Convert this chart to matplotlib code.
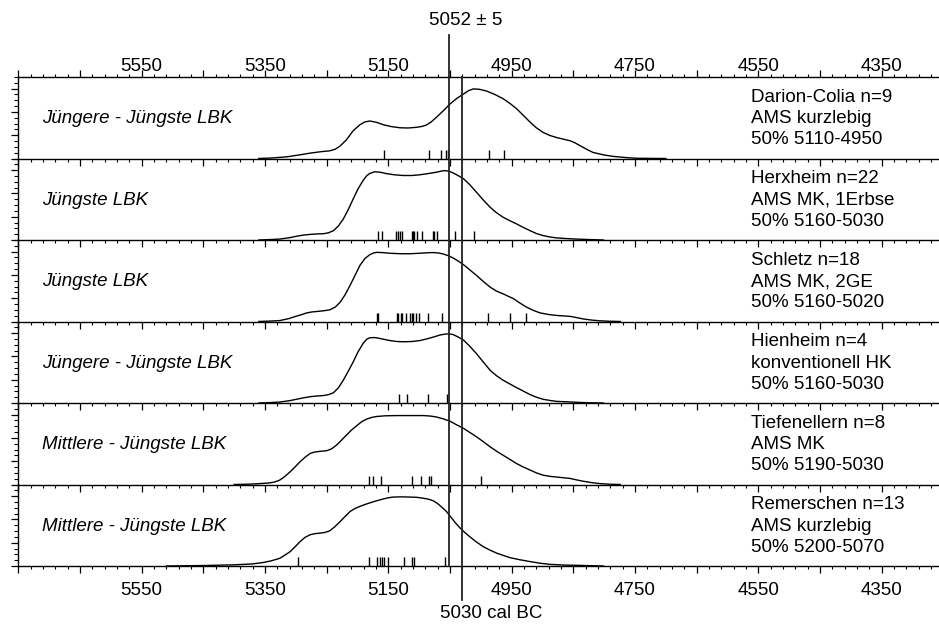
import matplotlib
matplotlib.use("Agg")
import matplotlib.pyplot as plt
from matplotlib.ticker import MultipleLocator, FuncFormatter
from matplotlib.transforms import blended_transform_factory

plt.rcParams['font.family'] = ['Liberation Sans', 'DejaVu Sans']

# ---- Summenkurven (cal BC) und Einzeldaten je Fundstelle ----
years_darion = [5360, 5340, 5315, 5295, 5277, 5260, 5245, 5236, 5228, 5218, 5207, 5196, 5188,
                5180, 5170, 5158, 5145, 5131, 5118, 5104, 5095, 5088, 5080, 5072, 5060, 5050,
                5039, 5028, 5020, 5012, 5002, 4991, 4978, 4964, 4953, 4942, 4931, 4920, 4910,
                4899, 4888, 4877, 4866, 4855, 4847, 4839, 4828, 4818, 4800, 4785, 4765, 4747,
                4700]
dens_darion = [0.0, 0.02, 0.07, 0.15, 0.23, 0.29, 0.33, 0.40, 0.54, 0.80, 1.19, 1.45, 1.57,
               1.61, 1.56, 1.45, 1.37, 1.32, 1.31, 1.34, 1.38, 1.44, 1.58, 1.77, 2.07, 2.34,
               2.58, 2.77, 2.91, 2.99, 2.97, 2.90, 2.76, 2.57, 2.37, 2.14, 1.85, 1.56, 1.32,
               1.12, 0.99, 0.90, 0.83, 0.76, 0.67, 0.55, 0.39, 0.26, 0.15, 0.09, 0.04, 0.01,
               0.0]
dates_darion = [5157, 5084, 5064, 5057, 5054, 4987, 4963]

years_herx = [5360, 5340, 5326, 5310, 5299, 5288, 5277, 5266, 5255, 5247, 5239, 5231, 5223,
              5215, 5207, 5199, 5191, 5185, 5180, 5172, 5163, 5153, 5140, 5126, 5112, 5099,
              5086, 5072, 5064, 5058, 5051, 5045, 5037, 5028, 5018, 5007, 4996, 4985, 4975,
              4964, 4953, 4942, 4931, 4920, 4910, 4899, 4888, 4877, 4860, 4845, 4825, 4801]
dens_herx = [0.0, 0.02, 0.04, 0.10, 0.16, 0.21, 0.24, 0.26, 0.27, 0.31, 0.40, 0.60, 0.90,
             1.30, 1.76, 2.20, 2.55, 2.76, 2.86, 2.93, 2.91, 2.85, 2.80, 2.77, 2.77, 2.80,
             2.85, 2.91, 2.96, 2.98, 2.95, 2.88, 2.77, 2.63, 2.38, 2.05, 1.72, 1.41, 1.18,
             0.98, 0.83, 0.69, 0.54, 0.40, 0.28, 0.19, 0.13, 0.09, 0.06, 0.04, 0.02, 0.0]
dates_herx = [5166, 5161, 5138, 5135, 5131, 5127, 5112, 5110, 5108, 5103, 5095, 5078, 5076,
              5071, 5042, 5011]

years_schletz = [5360, 5340, 5326, 5312, 5299, 5290, 5282, 5274, 5266, 5255, 5245, 5236, 5228,
                 5220, 5212, 5204, 5196, 5188, 5180, 5174, 5169, 5160, 5147, 5130, 5115, 5100,
                 5088, 5077, 5068, 5061, 5053, 5045, 5037, 5028, 5018, 5007, 4996, 4985, 4975,
                 4964, 4956, 4947, 4937, 4926, 4915, 4904, 4890, 4877, 4866, 4855, 4845, 4834,
                 4820, 4807, 4790, 4774]
dens_schletz = [0.0, 0.02, 0.04, 0.12, 0.23, 0.30, 0.37, 0.41, 0.43, 0.46, 0.50, 0.62, 0.83,
                1.15, 1.55, 1.98, 2.41, 2.70, 2.87, 2.94, 2.97, 2.96, 2.93, 2.91, 2.91, 2.93,
                2.95, 2.96, 2.94, 2.90, 2.83, 2.73, 2.60, 2.44, 2.22, 1.98, 1.72, 1.48, 1.31,
                1.19, 1.09, 0.98, 0.80, 0.62, 0.48, 0.37, 0.30, 0.26, 0.24, 0.22, 0.17, 0.11,
                0.06, 0.03, 0.01, 0.0]
dates_schletz = [5169, 5166, 5136, 5134, 5130, 5127, 5121, 5115, 5112, 5110, 5105, 5101, 5085,
                 5063, 4989, 4953, 4926]

years_hien = [5360, 5340, 5326, 5310, 5299, 5288, 5277, 5266, 5255, 5247, 5239, 5231, 5223,
              5215, 5207, 5199, 5191, 5185, 5180, 5174, 5169, 5158, 5147, 5136, 5126, 5112,
              5099, 5088, 5077, 5066, 5058, 5052, 5045, 5037, 5028, 5018, 5007, 4996, 4985,
              4975, 4964, 4953, 4942, 4931, 4920, 4910, 4899, 4888, 4877, 4860, 4845, 4825,
              4801]
dens_hien = [0.0, 0.02, 0.04, 0.10, 0.16, 0.22, 0.27, 0.30, 0.32, 0.36, 0.44, 0.65, 0.98,
             1.36, 1.76, 2.20, 2.55, 2.74, 2.80, 2.81, 2.80, 2.74, 2.68, 2.64, 2.63, 2.64,
             2.68, 2.75, 2.83, 2.92, 2.96, 2.97, 2.94, 2.84, 2.70, 2.44, 2.12, 1.76, 1.41,
             1.18, 0.98, 0.82, 0.66, 0.51, 0.36, 0.25, 0.16, 0.11, 0.07, 0.05, 0.03, 0.01,
             0.0]
dates_hien = [5133, 5120, 5085, 5055]

years_tief = [5400, 5380, 5363, 5342, 5334, 5326, 5318, 5309, 5301, 5293, 5285, 5277, 5270,
              5262, 5250, 5242, 5234, 5226, 5218, 5210, 5201, 5193, 5185, 5177, 5169, 5155,
              5136, 5115, 5093, 5082, 5072, 5061, 5050, 5039, 5028, 5018, 5007, 4996, 4985,
              4975, 4964, 4953, 4942, 4931, 4920, 4910, 4899, 4888, 4877, 4866, 4855, 4845,
              4834, 4820, 4807, 4790, 4774]
dens_tief = [0.0, 0.01, 0.03, 0.07, 0.11, 0.19, 0.34, 0.55, 0.76, 0.98, 1.17, 1.33, 1.39,
             1.42, 1.45, 1.53, 1.69, 1.90, 2.12, 2.33, 2.53, 2.70, 2.81, 2.88, 2.92, 2.95,
             2.96, 2.96, 2.96, 2.94, 2.90, 2.82, 2.72, 2.56, 2.41, 2.24, 2.05, 1.84, 1.62,
             1.44, 1.26, 1.08, 0.90, 0.75, 0.62, 0.50, 0.40, 0.35, 0.32, 0.29, 0.26, 0.20,
             0.14, 0.08, 0.04, 0.01, 0.0]
dates_tief = [5181, 5175, 5162, 5112, 5097, 5084, 5080, 4999]

years_remer = [5510, 5450, 5400, 5370, 5353, 5340, 5326, 5318, 5309, 5301, 5293, 5285, 5277,
               5269, 5261, 5253, 5245, 5237, 5228, 5220, 5212, 5204, 5196, 5188, 5180, 5169,
               5158, 5150, 5142, 5128, 5115, 5104, 5093, 5085, 5077, 5070, 5063, 5056, 5050,
               5042, 5034, 5026, 5018, 5007, 4996, 4985, 4974, 4963, 4953, 4937, 4920, 4904,
               4888, 4865, 4845, 4801]
dens_remer = [0.0, 0.02, 0.05, 0.09, 0.15, 0.22, 0.33, 0.46, 0.62, 0.83, 1.05, 1.23, 1.34,
              1.39, 1.41, 1.44, 1.51, 1.68, 1.91, 2.13, 2.34, 2.47, 2.56, 2.64, 2.71, 2.80,
              2.88, 2.93, 2.96, 2.97, 2.96, 2.95, 2.91, 2.87, 2.80, 2.68, 2.52, 2.35, 2.15,
              1.88, 1.64, 1.44, 1.26, 1.03, 0.83, 0.68, 0.55, 0.45, 0.36, 0.27, 0.19, 0.12,
              0.07, 0.04, 0.03, 0.0]
dates_remer = [5297, 5182, 5168, 5163, 5160, 5157, 5150, 5124, 5112, 5108, 5058]

phases = ["Jüngere - Jüngste LBK", "Jüngste LBK", "Jüngste LBK",
          "Jüngere - Jüngste LBK", "Mittlere - Jüngste LBK", "Mittlere - Jüngste LBK"]
sites = ["Darion-Colia n=9\nAMS kurzlebig\n50% 5110-4950",
         "Herxheim n=22\nAMS MK, 1Erbse\n50% 5160-5030",
         "Schletz n=18\nAMS MK, 2GE\n50% 5160-5020",
         "Hienheim n=4\nkonventionell HK\n50% 5160-5030",
         "Tiefenellern n=8\nAMS MK\n50% 5190-5030",
         "Remerschen n=13\nAMS kurzlebig\n50% 5200-5070"]

curves = [(years_darion, dens_darion, dates_darion),
          (years_herx, dens_herx, dates_herx),
          (years_schletz, dens_schletz, dates_schletz),
          (years_hien, dens_hien, dates_hien),
          (years_tief, dens_tief, dates_tief),
          (years_remer, dens_remer, dates_remer)]

event_date = 5052
event_lbl = "5052 ± 5"
cut_date = 5030
cut_lbl = "5030 cal BC"

# ---- Layout ----
W, H = 939, 625
fig = plt.figure(figsize=(W / 100, H / 100), dpi=100)
x0, x1 = 18.3, 943.3
top_px, bot_px = 77, 566
ph = (bot_px - top_px) / 6


def year_lbl(v, pos):
    v = int(round(v))
    if 4350 <= v <= 5550 and (5550 - v) % 200 == 0:
        return "%d" % v
    return ""


axes = []
for i, (yrs, dens, dates) in enumerate(curves):
    b = bot_px - (5 - i) * ph
    ax = fig.add_axes([x0 / W, 1 - b / H, (x1 - x0) / W, ph / H])
    ax.plot(yrs, dens, color="black", lw=1.0)
    ax.vlines(dates, 0, 0.37, color="black", lw=1.0)
    ax.set_xlim(5750, 4250)
    ax.set_ylim(0, 3.5)

    for s in ["top", "right"]:
        ax.spines[s].set_visible(False)
    if i == 0:
        ax.spines["top"].set_visible(True)
    for s in ax.spines.values():
        s.set_linewidth(1.0)

    # Hauptstriche bei ...50, Nebenstriche alle 20 Jahre
    ax.xaxis.set_major_locator(MultipleLocator(100, offset=50))
    ax.xaxis.set_minor_locator(MultipleLocator(20, offset=10))
    ax.xaxis.set_major_formatter(FuncFormatter(year_lbl))
    ax.yaxis.set_major_locator(MultipleLocator(1))
    ax.yaxis.set_minor_locator(MultipleLocator(0.25))

    ax.tick_params(axis="x", which="major", direction="out", length=4.8, width=0.9,
                   labelsize=13.5, top=(i == 0), labeltop=(i == 0),
                   labelbottom=(i == 5), pad=(-3.2 if i == 0 else 6.5))
    ax.tick_params(axis="x", which="minor", direction="out", length=2.2, width=0.8,
                   top=(i == 0))
    ax.tick_params(axis="y", which="major", direction="out", length=4.7, width=0.9,
                   labelleft=False)
    ax.tick_params(axis="y", which="minor", direction="out", length=2.9, width=0.8)

    ax.text(0.0256, 0.49, phases[i], transform=ax.transAxes, style="italic",
            fontsize=13.5, va="center", ha="left")
    ax.text(0.792, 0.49, sites[i], transform=ax.transAxes, fontsize=13.5,
            va="center", ha="left", linespacing=1.32)
    ax.patch.set_alpha(0)
    axes.append(ax)

# vertical reference lines across all panels
tr = blended_transform_factory(axes[0].transData, fig.transFigure)
fig.add_artist(plt.Line2D([event_date, event_date], [1 - 35 / H, 1 - bot_px / H],
                          transform=tr, color="#222222", lw=1.3))
fig.add_artist(plt.Line2D([cut_date, cut_date], [1 - top_px / H, 1 - 600 / H],
                          transform=tr, color="#222222", lw=1.3))
fig.text(466 / W, 1 - 20.5 / H, event_lbl, fontsize=13.5, ha="center", va="center")
fig.text(491 / W, 1 - 613 / H, cut_lbl, fontsize=13.5, ha="center", va="center")

fig.savefig("out.png", dpi=100)
